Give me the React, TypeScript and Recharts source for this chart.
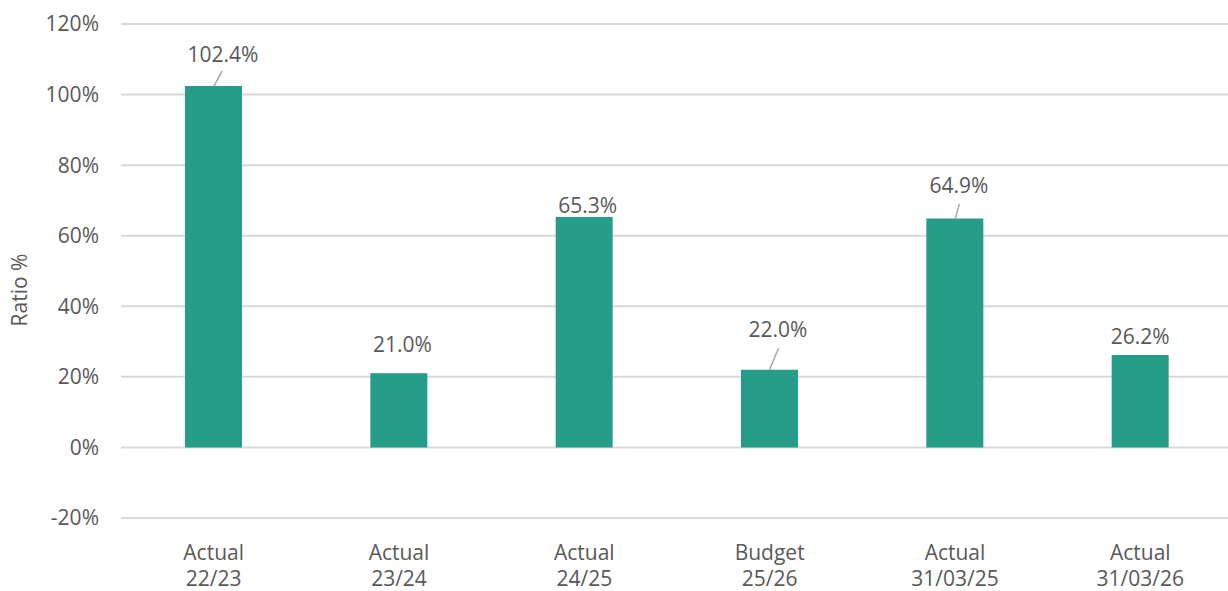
import React from "react";
import { BarChart, Bar, XAxis, YAxis, CartesianGrid, LabelList, Label } from "recharts";

const categoryTop = ["Actual", "Actual", "Actual", "Budget", "Actual", "Actual"];
const categoryBottom = ["22/23", "23/24", "24/25", "25/26", "31/03/25", "31/03/26"];
const ratioValues = [102.4, 21.0, 65.3, 22.0, 64.9, 26.2];
const yTicks = [-20, 0, 20, 40, 60, 80, 100, 120];

// label placement relative to bar top-centre (layout only)
const labelDx = [9.5, 3.5, 3.5, 8.5, 4, 0];
const labelDy = [-24, -21, -4.5, -33, -25.5, -10.5];
const leaderLines: (number[] | null)[] = [
  [8.5, -15, 0.5, 0],
  null,
  null,
  [9, -21.5, 0, 0],
  [4.5, -14.5, 0.5, 0],
  null,
];

const data = categoryTop.map((c, i) => ({
  name: c + " " + categoryBottom[i],
  top: c,
  bottom: categoryBottom[i],
  value: ratioValues[i],
}));

const FONT = "'Open Sans', 'Noto Sans', sans-serif";
const TEXT = "#595959";
const FS = 21;

const XTick = (props: any) => {
  const { x, y, index } = props;
  return (
    <g>
      <text x={x} y={y + 41.5} textAnchor="middle" fill={TEXT} fontSize={FS} fontFamily={FONT}>
        {categoryTop[index]}
      </text>
      <text x={x} y={y + 68} textAnchor="middle" fill={TEXT} fontSize={FS} fontFamily={FONT}>
        {categoryBottom[index]}
      </text>
    </g>
  );
};

const BarLabel = (props: any) => {
  const { x, y, width, value, index } = props;
  const cx = Number(x) + Number(width) / 2;
  const top = Number(y);
  const l = leaderLines[index];
  return (
    <g>
      {l && (
        <line x1={cx + l[0]} y1={top + l[1]} x2={cx + l[2]} y2={top + l[3]} stroke="#a6a6a6" strokeWidth={1.5} />
      )}
      <text
        x={cx + labelDx[index]}
        y={top + labelDy[index]}
        textAnchor="middle"
        fill={TEXT}
        fontSize={FS}
        fontFamily={FONT}
      >
        {Number(value).toFixed(1) + "%"}
      </text>
    </g>
  );
};

export default function App() {
  return (
    <div style={{ position: "absolute", left: 0, top: 0, width: 1228, height: 591, overflow: "hidden", background: "#fff" }}>
      <BarChart width={1233} height={591} data={data} margin={{ top: 24, right: 0, bottom: 0, left: 0 }}>
        <CartesianGrid vertical={false} stroke="#d9d9d9" strokeWidth={2} />
        <XAxis
          dataKey="name"
          height={73}
          axisLine={false}
          tickLine={false}
          tickSize={0}
          tickMargin={0}
          interval={0}
          tick={<XTick />}
        />
        <YAxis
          width={121}
          domain={[-20, 120]}
          ticks={yTicks}
          interval={0}
          axisLine={false}
          tickLine={false}
          tickSize={0}
          tickMargin={22}
          tickFormatter={(v: number) => v + "%"}
          tick={{ fill: TEXT, fontSize: FS, fontFamily: FONT }}
        >
          <Label
            content={() => (
              <text
                transform="translate(27,290) rotate(-90)"
                textAnchor="middle"
                fill={TEXT}
                fontSize={FS}
                fontFamily={FONT}
              >
                Ratio %
              </text>
            )}
          />
        </YAxis>
        <Bar dataKey="value" fill="#259D89" barSize={57} isAnimationActive={false}>
          <LabelList dataKey="value" content={<BarLabel />} />
        </Bar>
      </BarChart>
    </div>
  );
}
